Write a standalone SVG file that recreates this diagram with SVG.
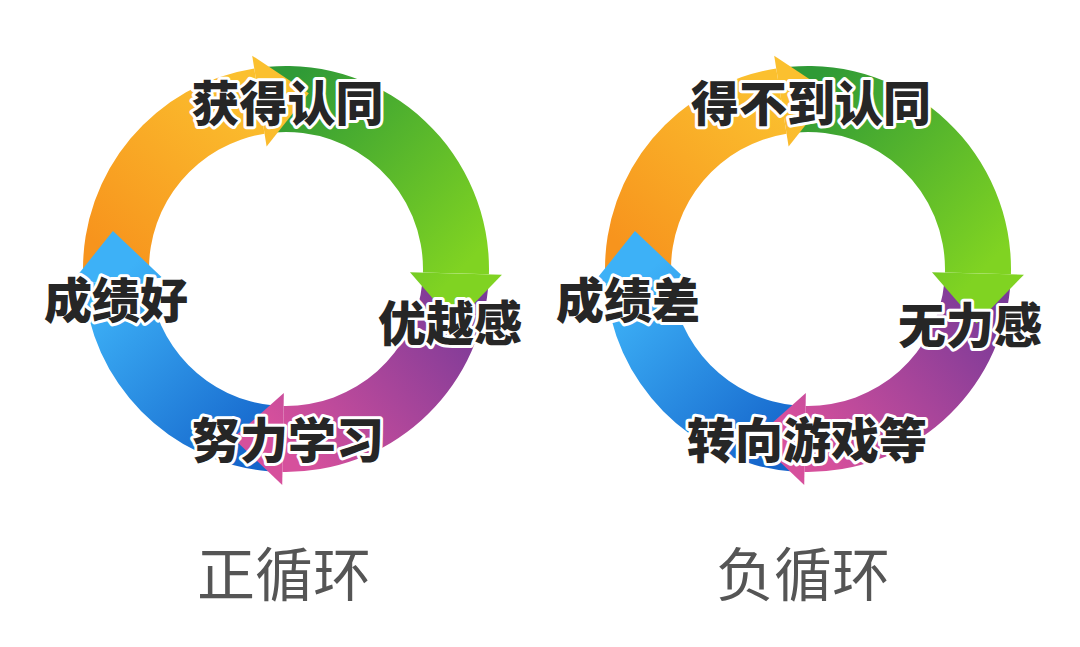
<svg xmlns="http://www.w3.org/2000/svg" xmlns:xlink="http://www.w3.org/1999/xlink" width="1080" height="647" viewBox="0 0 1080 647">
<style>
.lbl{font-family:"Noto Sans CJK SC","Noto Sans",sans-serif;font-size:48px;font-weight:900;fill:#262626;stroke:#ffffff;stroke-width:6px;stroke-linejoin:round;paint-order:stroke;text-anchor:middle}
.cap{font-family:"Noto Sans CJK SC","Noto Sans",sans-serif;font-size:58px;font-weight:400;fill:#555555;text-anchor:middle}
</style>
<defs>
<linearGradient id="gO" gradientUnits="userSpaceOnUse" x1="117" y1="262" x2="262" y2="100"><stop offset="0" stop-color="#F7941D"/><stop offset="1" stop-color="#FBC02F"/></linearGradient>
<linearGradient id="gG" gradientUnits="userSpaceOnUse" x1="272" y1="100" x2="456" y2="275"><stop offset="0" stop-color="#2F9A36"/><stop offset="1" stop-color="#80D322"/></linearGradient>
<linearGradient id="gP" gradientUnits="userSpaceOnUse" x1="455" y1="290" x2="283" y2="440"><stop offset="0" stop-color="#7A3A98"/><stop offset="1" stop-color="#D6509C"/></linearGradient>
<linearGradient id="gB" gradientUnits="userSpaceOnUse" x1="270" y1="438" x2="117" y2="280"><stop offset="0" stop-color="#1565CB"/><stop offset="1" stop-color="#3DB1F7"/></linearGradient>
<g id="ring">
<path fill="url(#gO)" d="M 83.03 272.54 A 203 203 0 0 1 254.24 68.50 L 264.57 133.69 A 137 137 0 0 0 149.02 271.39 Z"/>
<path fill="url(#gG)" d="M 268.31 66.77 A 203 203 0 0 1 488.93 274.31 L 422.95 272.59 A 137 137 0 0 0 274.06 132.52 Z"/>
<path fill="url(#gP)" d="M 488.07 288.46 A 203 203 0 0 1 282.46 471.97 L 283.61 405.98 A 137 137 0 0 0 422.37 282.13 Z"/>
<path fill="url(#gB)" d="M 268.31 471.23 A 203 203 0 0 1 83.50 283.16 L 149.33 278.56 A 137 137 0 0 0 274.06 405.48 Z"/>
<path fill="url(#gO)" d="M 252.21 55.66 L 308.80 93.30 L 266.60 146.53 Z"/>
<path fill="url(#gG)" d="M 501.93 274.65 L 454.63 323.43 L 409.96 272.25 Z"/>
<path fill="url(#gP)" d="M 282.23 484.97 L 233.04 438.10 L 283.84 392.98 Z"/>
<path fill="url(#gB)" d="M 70.53 284.07 L 112.92 230.98 L 162.30 277.65 Z"/>
</g>
</defs>
<rect width="1080" height="647" fill="#ffffff"/>
<g id="connectors">
<use xlink:href="#ring" href="#ring"/>
<use xlink:href="#ring" href="#ring" transform="translate(522,0)"/>
</g>
<g id="positive-cycle">
<g id="n-recognized"><text class="lbl" x="287.5" y="121">获得认同</text></g>
<g id="n-superiority"><text class="lbl" x="450" y="341">优越感</text></g>
<g id="n-study"><text class="lbl" x="288" y="458">努力学习</text></g>
<g id="n-good-grades"><text class="lbl" x="116" y="318">成绩好</text></g>
<g id="cap-positive"><text class="cap" x="284" y="596">正循环</text></g>
</g>
<g id="negative-cycle">
<g id="n-not-recognized"><text class="lbl" x="811" y="121">得不到认同</text></g>
<g id="n-helpless"><text class="lbl" x="970" y="343">无力感</text></g>
<g id="n-games"><text class="lbl" x="807" y="458">转向游戏等</text></g>
<g id="n-bad-grades"><text class="lbl" x="628" y="318">成绩差</text></g>
<g id="cap-negative"><text class="cap" x="803" y="596">负循环</text></g>
</g>
</svg>
